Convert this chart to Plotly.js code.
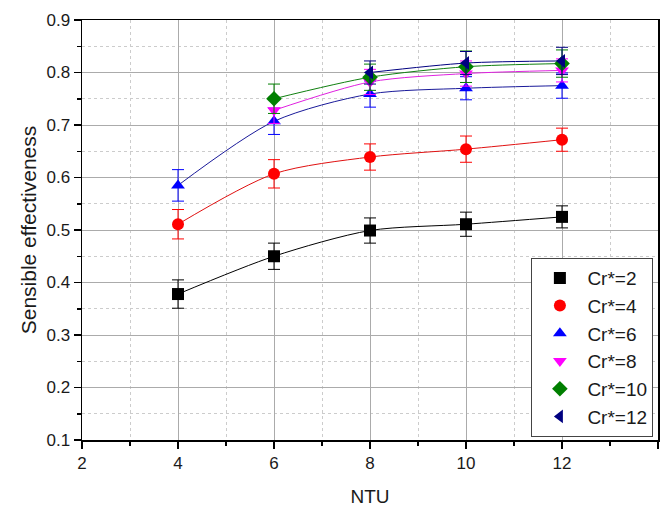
<!DOCTYPE html>
<html><head><meta charset="utf-8">
<script src="https://cdn.plot.ly/plotly-3.0.1.min.js"></script>
<style>html,body{margin:0;padding:0;background:#fff;}</style>
</head><body><div id="chart" style="width:667px;height:513px;"></div>
<script>
const ntu = [4, 6, 8, 10, 12];
const seriesNames = ["Cr*=2", "Cr*=4", "Cr*=6", "Cr*=8", "Cr*=10", "Cr*=12"];
const cr2 = [0.378, 0.450, 0.499, 0.511, 0.525];
const cr2Err = [0.027, 0.025, 0.024, 0.023, 0.021];
const cr4 = [0.511, 0.607, 0.639, 0.654, 0.672];
const cr4Err = [0.028, 0.027, 0.025, 0.025, 0.022];
const cr6 = [0.585, 0.707, 0.759, 0.770, 0.775];
const cr6Err = [0.030, 0.025, 0.025, 0.022, 0.024];
const cr8x = [6, 8, 10, 12];
const cr8 = [0.728, 0.782, 0.798, 0.804];
const cr8Err = [0.025, 0.024, 0.024, 0.022];
const cr10x = [6, 8, 10, 12];
const cr10 = [0.750, 0.791, 0.811, 0.817];
const cr10Err = [0.028, 0.025, 0.030, 0.026];
const cr12x = [8, 10, 12];
const cr12 = [0.800, 0.818, 0.822];
const cr12Err = [0.022, 0.022, 0.026];

const colors = ["#000000", "#ff0000", "#0000ff", "#ff00ff", "#007f00", "#000080"];
const lineColors = ["#000000", "#e01010", "#1a1a9a", "#e020e0", "#108010", "#000080"];
const symbols = ["square", "circle", "triangle-up", "triangle-down", "diamond", "triangle-left"];
const xs = [ntu, ntu, ntu, cr8x, cr10x, cr12x];
const ys = [cr2, cr4, cr6, cr8, cr10, cr12];
const errs = [cr2Err, cr4Err, cr6Err, cr8Err, cr10Err, cr12Err];

const lineTraces = seriesNames.map((name, i) => ({
  type: "scatter", mode: "lines", showlegend: false, hoverinfo: "skip",
  x: xs[i], y: ys[i],
  line: {shape: "spline", smoothing: 0.8, color: lineColors[i], width: 1}
}));
const markerTraces = seriesNames.map((name, i) => ({
  type: "scatter", mode: "markers", name: name,
  x: xs[i], y: ys[i],
  marker: {symbol: symbols[i], color: colors[i], size: 12, line: {width: 0}},
  error_y: {type: "data", array: errs[i], visible: true, color: colors[i], thickness: 1, width: 6}
}));

const font = {family: "Arial, 'Liberation Sans', sans-serif", color: "#1a1a1a"};

const layout = {
  width: 667, height: 513,
  margin: {l: 82, r: 9, t: 20, b: 73},
  paper_bgcolor: "#ffffff",
  plot_bgcolor: "#ffffff",
  font: Object.assign({size: 17}, font),
  showlegend: true,
  legend: {
    x: 0.992, y: 0.007, xanchor: "right", yanchor: "bottom",
    bordercolor: "#444", borderwidth: 1, bgcolor: "#ffffff",
    font: Object.assign({size: 19}, font),
    tracegroupgap: 0, itemwidth: 45
  },
  xaxis: {
    range: [2, 14], dtick: 2, tick0: 2,
    showline: true, linecolor: "#000", linewidth: 1.5, mirror: true,
    ticks: "outside", ticklen: 7, tickwidth: 1.5, tickcolor: "#000",
    showgrid: true, gridcolor: "#ababab", gridwidth: 1,
    zeroline: false,
    minor: {dtick: 1, ticks: "outside", ticklen: 4, tickcolor: "#000", showgrid: true, gridcolor: "#cccccc", griddash: "dot", gridwidth: 1},
    tickfont: Object.assign({size: 17}, font),
    title: {text: "NTU", font: Object.assign({size: 19}, font), standoff: 18}
  },
  yaxis: {
    range: [0.1, 0.9], dtick: 0.1, tick0: 0.1,
    showline: true, linecolor: "#000", linewidth: 1.5, mirror: true,
    ticks: "outside", ticklen: 7, tickwidth: 1.5, tickcolor: "#000",
    showgrid: true, gridcolor: "#ababab", gridwidth: 1,
    zeroline: false,
    minor: {dtick: 0.05, ticks: "outside", ticklen: 4, tickcolor: "#000", showgrid: true, gridcolor: "#cccccc", griddash: "dot", gridwidth: 1},
    tickfont: Object.assign({size: 17}, font),
    title: {text: "Sensible effectiveness", font: Object.assign({size: 21}, font), standoff: 4}
  }
};

Plotly.newPlot("chart", lineTraces.concat(markerTraces), layout, {displayModeBar: false, staticPlot: true});
</script>
</body></html>
